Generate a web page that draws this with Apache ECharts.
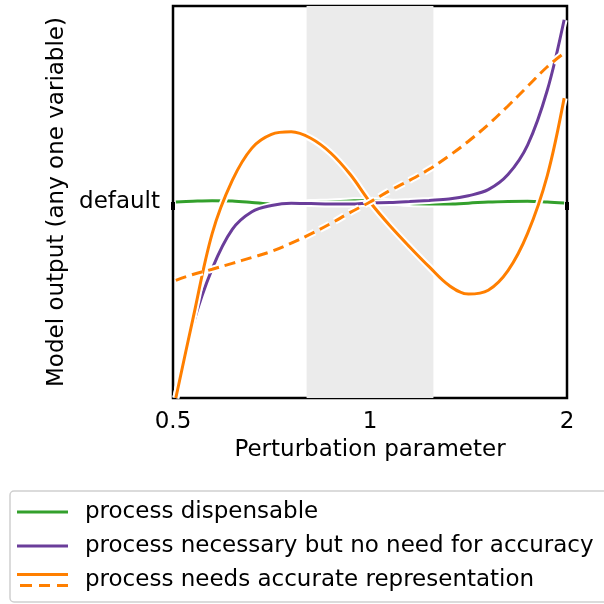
<!DOCTYPE html>
<html>
<head>
<meta charset="utf-8">
<script src="https://cdn.jsdelivr.net/npm/echarts@6/dist/echarts.min.js"></script>
<style>
  html, body { margin: 0; padding: 0; background: #fff; }
  #chart { width: 604px; height: 604px; }
</style>
</head>
<body>
<div id="chart"></div>
<script>
// perturbation factor (log2 axis) and model output, 0 = default
var xTicks = [0.5, 1, 2];
var shadeRange = [0.8, 1.25];

var seriesNames = [
  'process dispensable',
  'process necessary but no need for accuracy',
  'process needs accurate representation'
];

// sample points, evenly spaced on the log axis
var factors = [0.505, 0.536, 0.574, 0.616, 0.66, 0.707, 0.758, 0.812, 0.871, 0.933, 1, 1.072, 1.149, 1.231, 1.32, 1.414, 1.516, 1.625, 1.741, 1.866, 1.98];

var greenY = [0.0, 0.004, 0.007, 0.005, -0.002, -0.01, -0.008, -0.003, 0.0, 0.005, 0.008, 0.0, -0.008, -0.01, -0.01, -0.006, 0.0, 0.003, 0.004, 0.0, -0.005];
var purpleY = [-1.0, -0.63, -0.34, -0.14, -0.05, -0.018, -0.006, -0.008, -0.01, -0.01, -0.005, -0.003, 0.002, 0.008, 0.015, 0.032, 0.063, 0.14, 0.29, 0.57, 0.93];
var orangeY = [-1.0, -0.6, -0.16, 0.11, 0.275, 0.345, 0.358, 0.325, 0.25, 0.14, 0.0, -0.12, -0.228, -0.33, -0.425, -0.47, -0.45, -0.35, -0.16, 0.135, 0.53];
var dashedY = [-0.4, -0.37, -0.343, -0.313, -0.283, -0.252, -0.21, -0.163, -0.11, -0.053, 0.0, 0.058, 0.11, 0.167, 0.235, 0.31, 0.395, 0.49, 0.59, 0.69, 0.76];

var colors = ['#33a02c', '#6a3d9a', '#ff7f00'];
var fontName = 'DejaVu Sans';

function zip(xs, ys) {
  var out = [];
  xs.forEach(function (x, i) {
    out.push([x, ys[i]]);
  });
  return out;
}

// white halo under every curve, like the xkcd style stroke
function halo(data, dashed) {
  return {
    type: 'line',
    data: data,
    smooth: 0.35,
    symbol: 'none',
    silent: true,
    lineStyle: { color: '#fff', width: 7, type: dashed ? [11, 6] : 'solid', cap: 'butt' }
  };
}

function curve(name, data, color, dashed) {
  return {
    name: name,
    type: 'line',
    data: data,
    smooth: 0.35,
    symbol: 'none',
    silent: true,
    color: color,
    lineStyle: { color: color, width: 3, type: dashed ? [11, 6] : 'solid', cap: 'butt' }
  };
}

function drawChart() {
  var chart = echarts.init(document.getElementById('chart'));

  var green = zip(factors, greenY);
  var purple = zip(factors, purpleY);
  var orange = zip(factors, orangeY);
  var dashed = zip(factors, dashedY);

  var greenHalo = halo(green, false);
  greenHalo.markArea = {
    silent: true,
    itemStyle: { color: '#ebebeb' },
    data: [[{ xAxis: shadeRange[0] }, { xAxis: shadeRange[1] }]]
  };

  chart.setOption({
    animation: false,
    textStyle: { fontFamily: fontName },
    grid: {
      left: 173,
      right: 37,
      top: 6,
      bottom: 206,
      show: true,
      borderColor: '#000',
      borderWidth: 2.5,
      backgroundColor: 'transparent'
    },
    xAxis: {
      type: 'log',
      logBase: 2,
      min: xTicks[0],
      max: xTicks[xTicks.length - 1],
      name: 'Perturbation parameter',
      nameLocation: 'middle',
      nameGap: 40,
      nameTextStyle: { fontSize: 23, color: '#000', fontFamily: fontName },
      axisLine: { show: false },
      axisTick: { show: true, length: 8, lineStyle: { color: '#000', width: 4 } },
      axisLabel: { fontSize: 23, color: '#000', margin: 13, fontFamily: fontName },
      splitLine: { show: false },
      minorTick: { show: false }
    },
    yAxis: {
      type: 'value',
      min: -1,
      max: 1,
      interval: 1,
      name: 'Model output (any one variable)',
      nameLocation: 'middle',
      nameGap: 103,
      nameTextStyle: { fontSize: 23, color: '#000', fontFamily: fontName },
      axisLine: { show: false },
      axisTick: { show: false },
      axisLabel: {
        fontSize: 23,
        color: '#000',
        margin: 13,
        fontFamily: fontName,
        formatter: function (v) { return v === 0 ? 'default' : ''; }
      },
      splitLine: { show: false }
    },
    legend: {
      orient: 'vertical',
      left: 10,
      top: 491,
      padding: [9, 40, 10, 7],
      itemWidth: 51,
      itemHeight: 14,
      itemGap: 10,
      borderColor: '#cfcfcf',
      borderWidth: 1.5,
      borderRadius: 4,
      itemStyle: { borderWidth: 0 },
      textStyle: { fontSize: 23, color: '#000', lineHeight: 24, fontFamily: fontName, padding: [0, 0, 0, 12] },
      data: [
        { name: seriesNames[0], icon: 'path://M0,0H51V3H0Z' },
        { name: seriesNames[1], icon: 'path://M0,0H51V3H0Z' },
        { name: seriesNames[2], icon: 'path://M0,0H51V3H0Z M3,11H15V14H3Z M22,11H33V14H22Z M40,11H51V14H40Z' }
      ]
    },
    series: [
      greenHalo,
      curve(seriesNames[0], green, colors[0], false),
      halo(purple, false),
      curve(seriesNames[1], purple, colors[1], false),
      halo(orange, false),
      curve(seriesNames[2], orange, colors[2], false),
      halo(dashed, true),
      curve('needs accurate (dashed)', dashed, colors[2], true)
    ]
  });
}

drawChart();
</script>
</body>
</html>
